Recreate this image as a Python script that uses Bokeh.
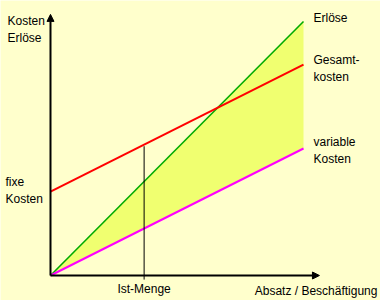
from bokeh.plotting import figure
from bokeh.models import Arrow, NormalHead, Range1d
from bokeh.core.properties import value
from bokeh.embed import file_html
from bokeh.resources import INLINE

# data (arbitrary units: Absatz 0..100, Kosten/Erlöse 0..100)
absatz = [0, 100]
erloese = [0, 100]
fixkosten = [33, 33]
variable_kosten = [0, 50]
gesamtkosten = [f + v for f, v in zip(fixkosten, variable_kosten)]
ist_menge = 37
ist_gesamt = 33 + 0.5 * ist_menge
x_axis_end = 106.3
y_axis_end = 102.8

BG = "#FFFFCC"
FONT = value("Liberation Sans")

p = figure(width=380, height=300, output_backend="svg", toolbar_location=None,
           x_range=Range1d(-19.76, 130.43), y_range=Range1d(-9.84, 108.27),
           min_border=0, background_fill_color=BG, border_fill_color=BG)
p.axis.visible = False
p.grid.visible = False
p.outline_line_color = None

# area between Erlöse and variable Kosten
p.varea(x=absatz, y1=variable_kosten, y2=erloese, fill_color="#F0FF70")

p.line(absatz, erloese, line_color="#00AA00", line_width=1.6)
p.line(absatz, gesamtkosten, line_color="#FF0000", line_width=2)
p.line(absatz, variable_kosten, line_color="#FF00FF", line_width=2)

# Ist-Menge vertical
p.segment(x0=[ist_menge], y0=[-1.6], x1=[ist_menge], y1=[ist_gesamt - 0.6],
          line_color="black", line_width=1)

# axes with arrows
p.add_layout(Arrow(end=NormalHead(size=7, fill_color="black", line_color="black"),
                   x_start=0, y_start=0, x_end=x_axis_end, y_end=0,
                   line_color="black", line_width=2))
p.add_layout(Arrow(end=NormalHead(size=7, fill_color="black", line_color="black"),
                   x_start=0, y_start=0, x_end=0, y_end=y_axis_end,
                   line_color="black", line_width=2))

common = dict(text_font=FONT, text_font_size="12px", text_color="black",
              text_line_height=1.25)

p.text(x=[absatz[1]], y=[erloese[1]], text=["Erlöse"], x_offset=10, y_offset=-4,
       text_align="left", text_baseline="middle", **common)
p.text(x=[absatz[1]], y=[gesamtkosten[1]], text=["Gesamt-\nkosten"], x_offset=10, y_offset=4,
       text_align="left", text_baseline="middle", **common)
p.text(x=[absatz[1]], y=[variable_kosten[1]], text=["variable\nKosten"], x_offset=10, y_offset=2,
       text_align="left", text_baseline="middle", **common)
p.text(x=[0], y=[fixkosten[0]], text=["fixe\nKosten"], x_offset=-45, y_offset=-1,
       text_align="left", text_baseline="middle", **common)
p.text(x=[0], y=[y_axis_end], text=["Kosten\nErlöse"], x_offset=-43, y_offset=15,
       text_align="left", text_baseline="middle", **common)
p.text(x=[ist_menge], y=[0], text=["Ist-Menge"], x_offset=0, y_offset=13,
       text_align="center", text_baseline="middle", **common)
p.text(x=[x_axis_end], y=[0], text=["Absatz / Beschäftigung"], x_offset=58, y_offset=15,
       text_align="right", text_baseline="middle", **common)

open("out.html", "w").write(file_html(p, INLINE))
